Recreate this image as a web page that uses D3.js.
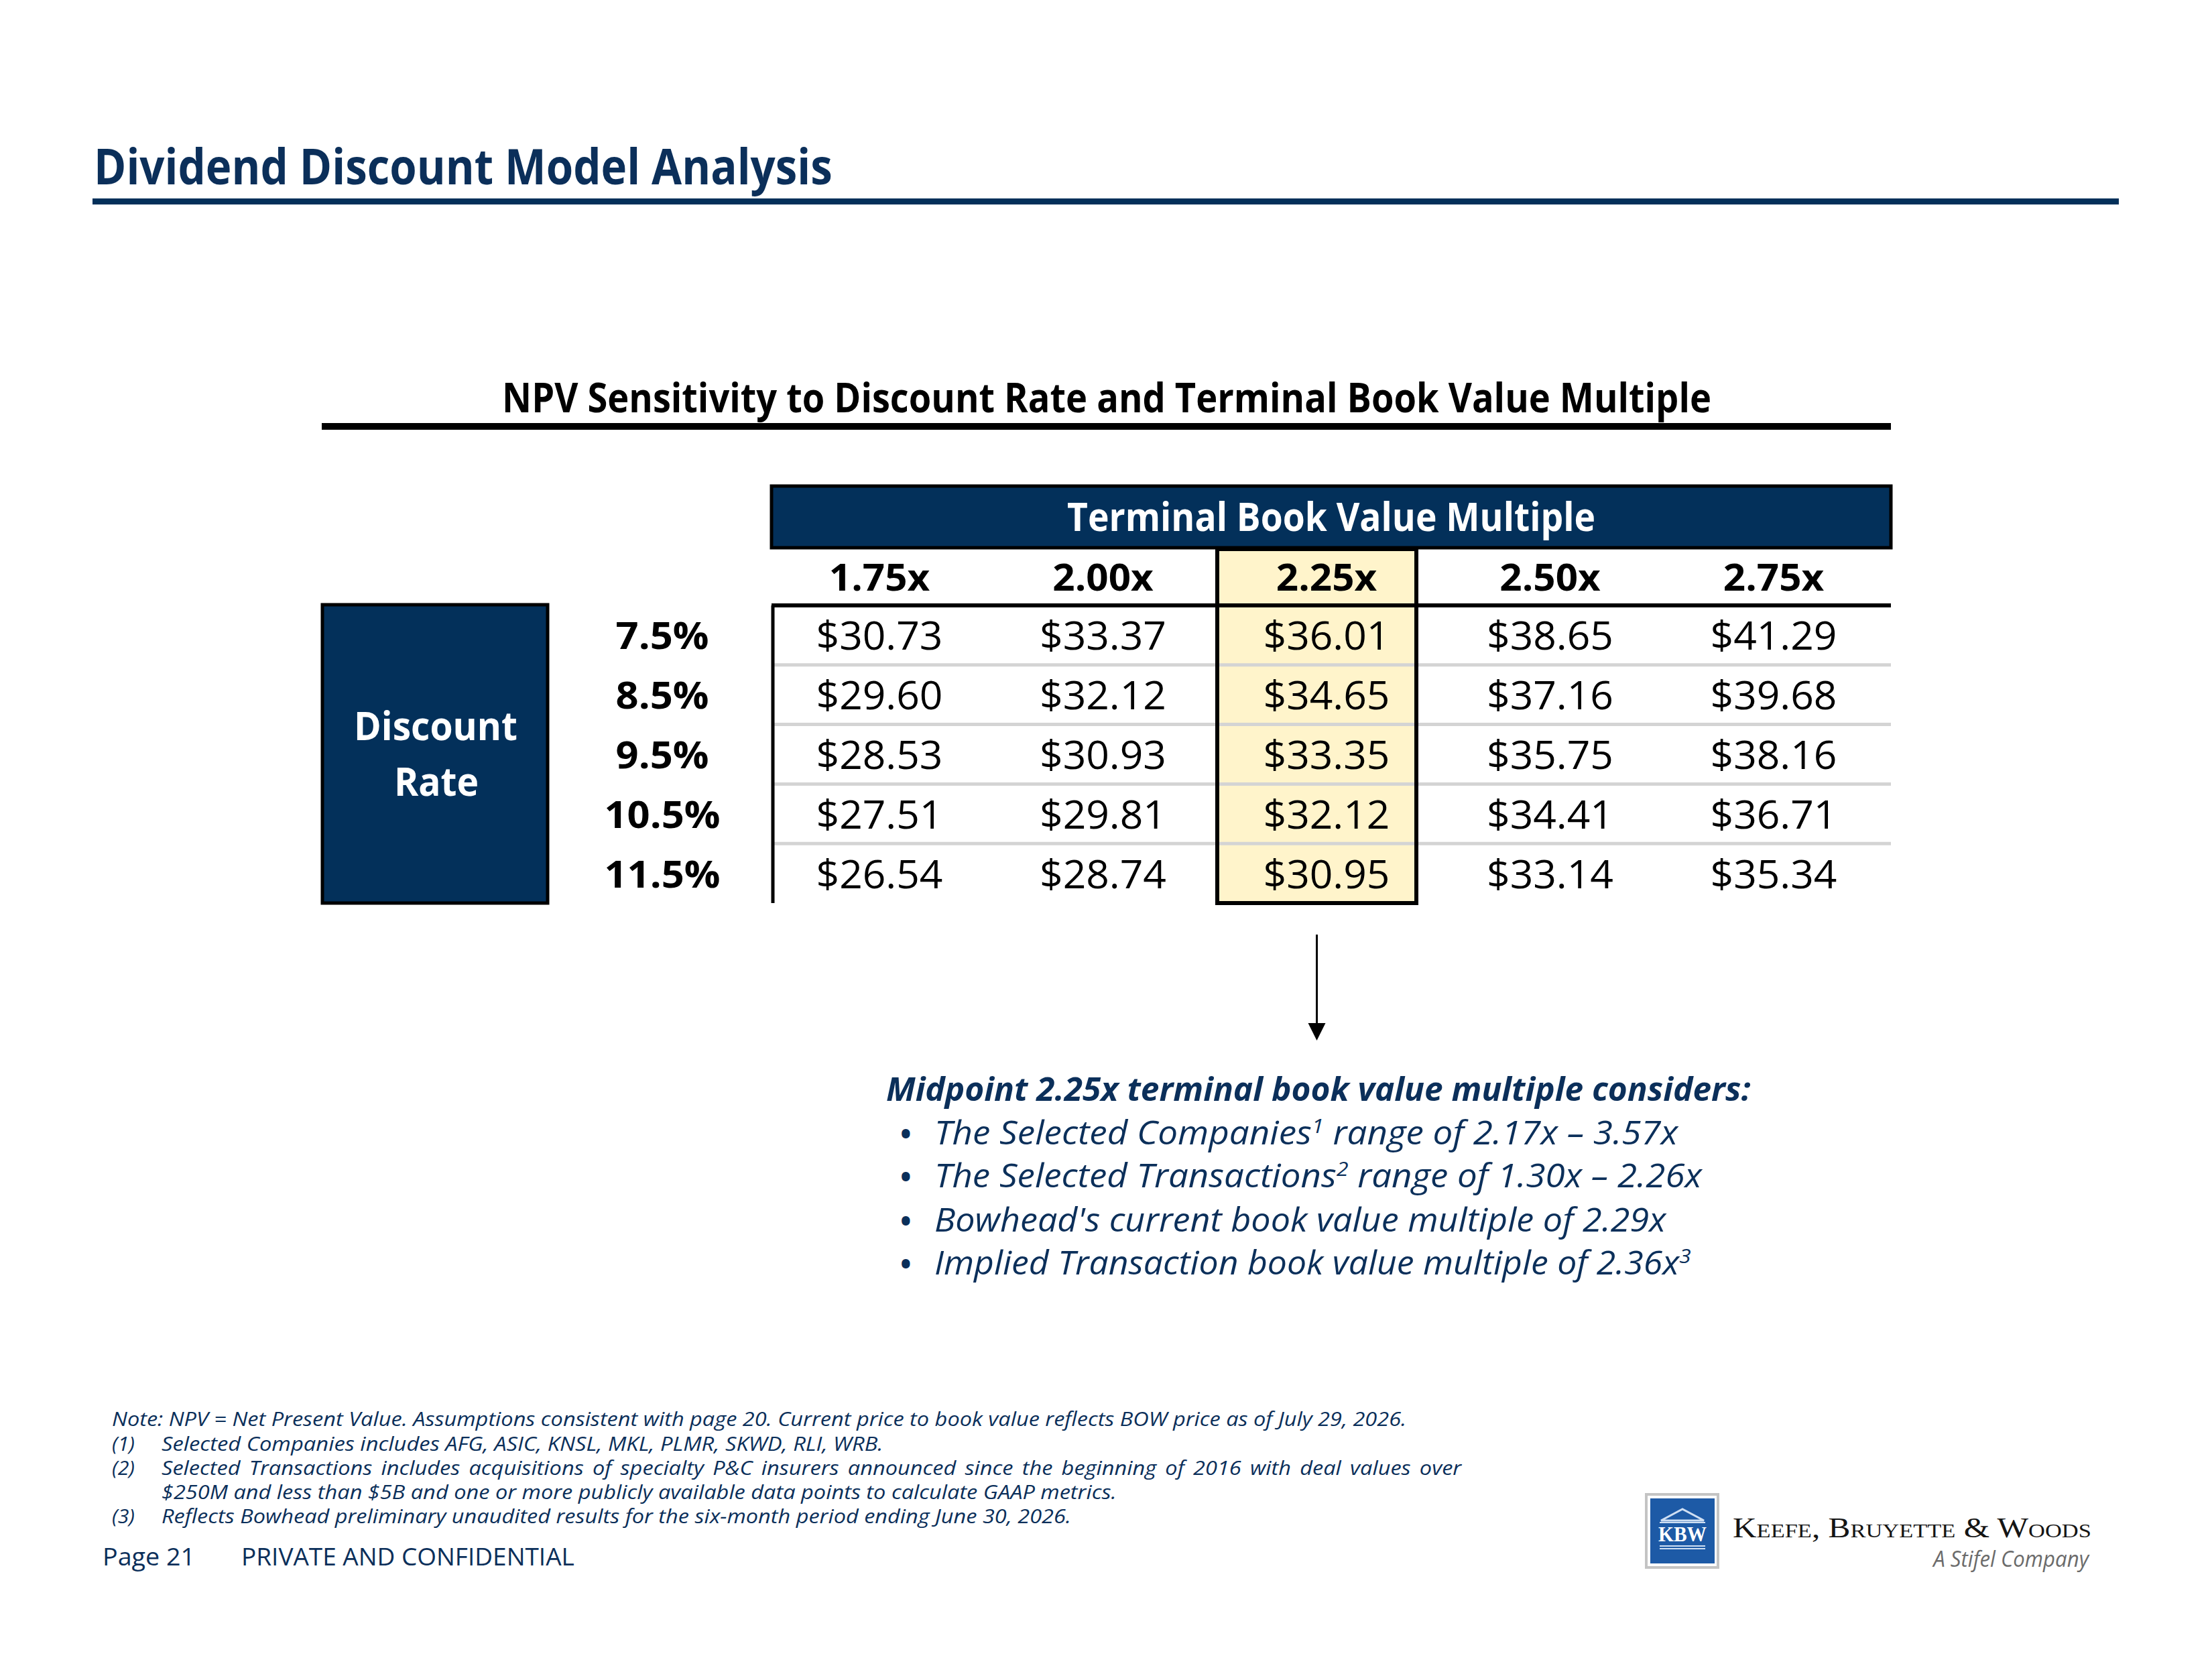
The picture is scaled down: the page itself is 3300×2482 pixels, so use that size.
<!DOCTYPE html>
<html>
<head>
<meta charset="utf-8">
<script src="https://cdn.jsdelivr.net/npm/d3@7"></script>
<style>
	html, body { margin:0; padding:0; background:#ffffff; }
	svg text { font-family: "Open Sans", "Noto Sans", sans-serif; }
</style>
</head>
<body>
<svg id="chart" width="3300" height="2482"></svg>
<script>
// table data
const multiples = ["1.75x", "2.00x", "2.25x", "2.50x", "2.75x"];
const discountRates = ["7.5%", "8.5%", "9.5%", "10.5%", "11.5%"];
const npvRate75 = [30.73, 33.37, 36.01, 38.65, 41.29];
const npvRate85 = [29.60, 32.12, 34.65, 37.16, 39.68];
const npvRate95 = [28.53, 30.93, 33.35, 35.75, 38.16];
const npvRate105 = [27.51, 29.81, 32.12, 34.41, 36.71];
const npvRate115 = [26.54, 28.74, 30.95, 33.14, 35.34];
const midpointMultiple = "2.25x";

// texts
const pageTitle = "Dividend Discount Model Analysis";
const tableTitle = "NPV Sensitivity to Discount Rate and Terminal Book Value Multiple";
const columnTitle = "Terminal Book Value Multiple";
const rowTitle = ["Discount", "Rate"];
const considerTitle = "Midpoint 2.25x terminal book value multiple considers:";
const considerText = ["The Selected Companies", "The Selected Transactions", "Bowhead's current book value multiple of 2.29x", "Implied Transaction book value multiple of 2.36x"];
const considerNote = ["1", "2", "", "3"];
const considerRest = [" range of 2.17x \u2013 3.57x", " range of 1.30x \u2013 2.26x", "", ""];
const footLabels = ["Note:", "(1)", "(2)", "", "(3)"];
const footLines = [
	"NPV = Net Present Value. Assumptions consistent with page 20. Current price to book value reflects BOW price as of July 29, 2026.",
	"Selected Companies includes AFG, ASIC, KNSL, MKL, PLMR, SKWD, RLI, WRB.",
	"Selected Transactions includes acquisitions of specialty P&C insurers announced since the beginning of 2016 with deal values over",
	"$250M and less than $5B and one or more publicly available data points to calculate GAAP metrics.",
	"Reflects Bowhead preliminary unaudited results for the six-month period ending June 30, 2026."
];

const npvValues = [npvRate75, npvRate85, npvRate95, npvRate105, npvRate115];

const NAVY = "#03305a",
	NAVY_TEXT = "#0b2f5a",
	YELLOW = "#fff4cb",
	GRID = "#d4d4d4",
	SERIF = "'Liberation Serif', 'DejaVu Serif', serif";

let svg = d3.select("#chart");

// x: centre of every multiple column, y: one band per discount rate
let xScale = d3.scalePoint().domain(multiples).range([1312, 2646]);
let yScale = d3.scaleBand().domain(discountRates).range([903, 1347]);
let band = yScale.bandwidth();
let tableLeft = 1151,
	tableRight = 2821;

drawHeader();
drawTable();
drawConsiderations();
drawFooter();
drawLogo();

//places a text inside its own group so it can be squeezed horizontally
function addText(parent, x, y, str, size, weight, anchor, fill, style){
	let g = parent.append("g").attr("transform", "translate(" + x + "," + y + ")");
	let t = g.append("text")
		.attr("text-anchor", anchor || "start")
		.attr("font-size", size)
		.attr("font-weight", weight || "normal")
		.attr("font-style", style || "normal")
		.attr("fill", fill || "#000");
	if(str !== null) t.text(str);
	return t;
}

//scales a text so that it gets the wanted width
function squeeze(t, width){
	let w = t.node().getBBox().width;
	t.attr("transform", "scale(" + (width / w) + ",1)");
	return width / w;
}

//same factor for every text of a selection, widest one gets width
function squeezeAll(sel, width){
	let max = 0;
	sel.each(function(){ max = Math.max(max, this.getBBox().width); });
	sel.attr("transform", "scale(" + (width / max) + ",1)");
}

function drawHeader(){
	let t = addText(svg, 140, 275, pageTitle, 74, "bold", "start", NAVY_TEXT);
	squeeze(t, 1102);
	svg.append("rect").attr("x", 138).attr("y", 296).attr("width", 3023).attr("height", 9).attr("fill", NAVY);

	let s = addText(svg, 1651, 615, tableTitle, 61, "bold", "middle", "#000");
	squeeze(s, 1804);
	svg.append("rect").attr("x", tableLeft - 671).attr("y", 631).attr("width", tableRight - tableLeft + 671).attr("height", 10).attr("fill", "#000");
}

function drawTable(){
	let table = svg.append("g").attr("class", "table"),
		mid = xScale(midpointMultiple),
		hlLeft = mid - 163,
		hlRight = mid + 134;

	// column header box
	table.append("rect")
		.attr("x", tableLeft).attr("y", 725)
		.attr("width", tableRight - tableLeft).attr("height", 92)
		.attr("fill", NAVY).attr("stroke", "#000").attr("stroke-width", 5);
	let ct = addText(table, (tableLeft + tableRight) / 2, 792, columnTitle, 59, "bold", "middle", "#fff");
	squeeze(ct, 788);

	// highlighted midpoint column
	table.append("rect")
		.attr("x", hlLeft).attr("y", 819)
		.attr("width", hlRight - hlLeft).attr("height", yScale.range()[1] - 819)
		.attr("fill", YELLOW);

	// light row separators
	table.selectAll("line.sep")
		.data(discountRates.slice(0, -1))
		.join("line")
		.attr("class", "sep")
		.attr("x1", tableLeft + 3).attr("x2", tableRight)
		.attr("y1", d => yScale(d) + band).attr("y2", d => yScale(d) + band)
		.attr("stroke", GRID).attr("stroke-width", 5);

	// black rules
	table.append("line")
		.attr("x1", tableLeft).attr("x2", tableRight)
		.attr("y1", yScale.range()[0]).attr("y2", yScale.range()[0])
		.attr("stroke", "#000").attr("stroke-width", 6);
	table.append("line")
		.attr("x1", tableLeft + 2).attr("x2", tableLeft + 2)
		.attr("y1", yScale.range()[0]).attr("y2", yScale.range()[1])
		.attr("stroke", "#000").attr("stroke-width", 5);
	table.append("rect")
		.attr("x", hlLeft).attr("y", 819)
		.attr("width", hlRight - hlLeft).attr("height", yScale.range()[1] - 819)
		.attr("fill", "none").attr("stroke", "#000").attr("stroke-width", 6);

	// column labels
	let heads = table.selectAll("g.head")
		.data(multiples)
		.join("g")
		.attr("class", "head")
		.attr("transform", d => "translate(" + xScale(d) + ",881)")
		.append("text")
		.attr("text-anchor", "middle")
		.attr("font-size", 56)
		.attr("font-weight", "bold")
		.text(d => d);
	squeezeAll(heads, 151);

	// row title box
	table.append("rect")
		.attr("x", 481).attr("y", 902)
		.attr("width", 336).attr("height", 445)
		.attr("fill", NAVY).attr("stroke", "#000").attr("stroke-width", 5);
	let r1 = addText(table, 650, 1104, rowTitle[0], 59, "bold", "middle", "#fff");
	let k = squeeze(r1, 244);
	addText(table, 651, 1187, rowTitle[1], 59, "bold", "middle", "#fff").attr("transform", "scale(" + k + ",1)");

	// row labels
	let rowLabels = table.selectAll("g.rate")
		.data(discountRates)
		.join("g")
		.attr("class", "rate")
		.attr("transform", d => "translate(988," + (yScale(d) + band / 2 + 21) + ")")
		.append("text")
		.attr("text-anchor", "middle")
		.attr("font-size", 56)
		.attr("font-weight", "bold")
		.text(d => d);
	squeezeAll(rowLabels, 173);

	// values
	let rows = table.selectAll("g.row")
		.data(npvValues)
		.join("g")
		.attr("class", "row")
		.attr("transform", (d, i) => "translate(0," + (yScale(discountRates[i]) + band / 2 + 22) + ")");
	let cells = rows.selectAll("g.cell")
		.data(d => d)
		.join("g")
		.attr("class", "cell")
		.attr("transform", (d, j) => "translate(" + xScale(multiples[j]) + ",0)")
		.append("text")
		.attr("text-anchor", "middle")
		.attr("font-size", 58)
		.attr("fill", "#000")
		.text(d => "$" + d3.format(".2f")(d));
	squeezeAll(cells, 189);

	// arrow from midpoint column down to the comments
	let ax = (hlLeft + hlRight) / 2;
	table.append("line")
		.attr("x1", ax).attr("x2", ax)
		.attr("y1", 1394).attr("y2", 1530)
		.attr("stroke", "#000").attr("stroke-width", 3);
	table.append("path")
		.attr("d", "M" + (ax - 13) + ",1526L" + (ax + 13) + ",1526L" + ax + ",1552Z")
		.attr("fill", "#000");
}

function drawConsiderations(){
	let g = svg.append("g").attr("class", "considerations"),
		widths = [1111, 1147, 1093, 1129],
		baselines = [1707, 1771, 1837, 1901];

	let t = addText(g, 1322, 1642, considerTitle, 48, "bold", "start", NAVY_TEXT, "italic");
	squeeze(t, 1290);

	considerText.forEach(function(txt, i){
		addText(g, 1343, baselines[i], "\u2022", 44, "bold", "start", NAVY_TEXT);
		let line = addText(g, 1394, baselines[i], null, 49, "normal", "start", NAVY_TEXT, "italic");
		line.append("tspan").text(txt);
		if(considerNote[i]){
			line.append("tspan").attr("dy", -17).attr("font-size", 30).text(considerNote[i]);
			line.append("tspan").attr("dy", 17).text(considerRest[i]);
		}
		squeeze(line, widths[i]);
	});
}

function drawFooter(){
	let g = svg.append("g").attr("class", "footer"),
		baselines = [2127, 2164, 2200, 2236, 2272],
		widths = [1932, 1077, 1941, 1425, 1358],
		starts = [167, 241, 241, 241, 241];

	footLines.forEach(function(txt, i){
		let str = i === 0 ? footLabels[0] + " " + txt : txt;
		let t = addText(g, starts[i], baselines[i], str, 30, "normal", "start", NAVY_TEXT, "italic");
		if(i === 2){
			// justified line: stretch the word gaps, squeeze like the next line
			let probe = addText(g, 0, -100, footLines[3], 30, "normal", "start", NAVY_TEXT, "italic");
			let k = widths[3] / probe.node().getBBox().width;
			probe.node().parentNode.remove();
			let w0 = t.node().getBBox().width,
				gaps = txt.split(" ").length - 1;
			t.attr("word-spacing", ((widths[2] / k) - w0) / gaps);
			t.attr("transform", "scale(" + k + ",1)");
		}
		else{
			squeeze(t, widths[i]);
		}
		if(i > 0 && footLabels[i]){
			let l = addText(g, 167, baselines[i], footLabels[i], 30, "normal", "start", NAVY_TEXT, "italic");
			squeeze(l, 34);
		}
	});

	let p = addText(g, 153, 2335, "Page 21", 36, "normal", "start", NAVY_TEXT);
	squeeze(p, 138);
	let c = addText(g, 360, 2335, "PRIVATE AND CONFIDENTIAL", 36, "normal", "start", NAVY_TEXT);
	squeeze(c, 497);
}

function drawLogo(){
	let g = svg.append("g").attr("class", "logo"),
		light = "#cfdff3";

	g.append("rect").attr("x", 2456).attr("y", 2229).attr("width", 107).attr("height", 109)
		.attr("fill", "#fff").attr("stroke", "#c4c4c4").attr("stroke-width", 4);
	g.append("rect").attr("x", 2462).attr("y", 2235).attr("width", 96).attr("height", 97).attr("fill", "#1d5aa6");
	g.append("path").attr("d", "M2478,2268L2510,2251L2542,2268Z").attr("fill", "none").attr("stroke", light).attr("stroke-width", 3);
	g.append("line").attr("x1", 2476).attr("x2", 2544).attr("y1", 2271).attr("y2", 2271).attr("stroke", light).attr("stroke-width", 2);
	g.append("line").attr("x1", 2476).attr("x2", 2544).attr("y1", 2306).attr("y2", 2306).attr("stroke", light).attr("stroke-width", 2);
	g.append("line").attr("x1", 2476).attr("x2", 2544).attr("y1", 2310).attr("y2", 2310).attr("stroke", light).attr("stroke-width", 2);
	let kbw = addText(g, 2510, 2299, "KBW", 32, "bold", "middle", "#fff").style("font-family", SERIF);
	squeeze(kbw, 72);

	let name = addText(g, 2585, 2293, "Keefe, Bruyette & Woods", 42, "normal", "start", "#151515")
		.style("font-family", SERIF)
		.style("font-variant", "small-caps");
	squeeze(name, 531);
	let st = addText(g, 3116, 2337, "A Stifel Company", 32, "normal", "end", "#6b6b6b", "italic");
	squeeze(st, 236);
}
</script>
</body>
</html>
